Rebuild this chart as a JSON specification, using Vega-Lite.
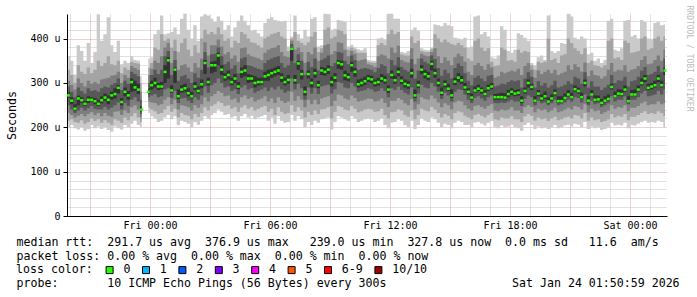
{
"$schema":"https://vega.github.io/schema/vega-lite/v6.json",
"width":600,"height":202,
"autosize":{"type":"none"},
"padding":{"left":67,"top":14,"right":30,"bottom":81},
"background":"#ffffff",
"config":{"view":{"stroke":null},"font":"DejaVu Sans Mono"},
"data":{"values":[
{"t":"2026-01-22T19:55","m":272,"a":200,"b":215,"c":232,"d":250,"e":266,"f":280,"g":292,"h":305,"i":330,"j":360},
{"t":"2026-01-22T20:05","m":260,"a":205,"b":218,"c":228,"d":240,"e":252,"f":268,"g":280,"h":296,"i":318,"j":350},
{"t":"2026-01-22T20:15","m":242,"a":198,"b":212,"c":222,"d":232,"e":238,"f":252,"g":268,"h":285,"i":300,"j":318},
{"t":"2026-01-22T20:25","m":265,"a":195,"b":210,"c":226,"d":238,"e":250,"f":272,"g":290,"h":310,"i":340,"j":385},
{"t":"2026-01-22T20:35","m":261,"a":200,"b":216,"c":230,"d":244,"e":255,"f":268,"g":282,"h":300,"i":325,"j":372},
{"t":"2026-01-22T20:45","m":253,"a":192,"b":208,"c":225,"d":238,"e":248,"f":260,"g":276,"h":292,"i":320,"j":350},
{"t":"2026-01-22T20:55","m":262,"a":196,"b":212,"c":230,"d":243,"e":255,"f":270,"g":288,"h":305,"i":335,"j":390},
{"t":"2026-01-22T21:05","m":262,"a":205,"b":220,"c":234,"d":248,"e":258,"f":268,"g":282,"h":298,"i":322,"j":345},
{"t":"2026-01-22T21:15","m":259,"a":198,"b":214,"c":228,"d":242,"e":252,"f":266,"g":284,"h":302,"i":330,"j":370},
{"t":"2026-01-22T21:25","m":253,"a":202,"b":218,"c":232,"d":240,"e":248,"f":262,"g":280,"h":298,"i":350,"j":455},
{"t":"2026-01-22T21:35","m":261,"a":196,"b":210,"c":225,"d":240,"e":254,"f":270,"g":288,"h":308,"i":338,"j":395},
{"t":"2026-01-22T21:45","m":267,"a":200,"b":216,"c":232,"d":246,"e":260,"f":276,"g":292,"h":310,"i":345,"j":410},
{"t":"2026-01-22T21:55","m":262,"a":194,"b":210,"c":226,"d":240,"e":252,"f":272,"g":290,"h":312,"i":360,"j":448},
{"t":"2026-01-22T22:05","m":272,"a":190,"b":206,"c":224,"d":244,"e":262,"f":280,"g":296,"h":316,"i":342,"j":385},
{"t":"2026-01-22T22:15","m":275,"a":202,"b":218,"c":235,"d":250,"e":265,"f":288,"g":300,"h":318,"i":340,"j":370},
{"t":"2026-01-22T22:25","m":289,"a":198,"b":215,"c":236,"d":256,"e":276,"f":295,"g":310,"h":325,"i":350,"j":395},
{"t":"2026-01-22T22:35","m":257,"a":195,"b":210,"c":228,"d":240,"e":250,"f":266,"g":284,"h":300,"i":322,"j":342},
{"t":"2026-01-22T22:45","m":280,"a":205,"b":222,"c":238,"d":255,"e":270,"f":290,"g":305,"h":318,"i":335,"j":350},
{"t":"2026-01-22T22:55","m":272,"a":200,"b":216,"c":232,"d":248,"e":262,"f":282,"g":298,"h":312,"i":330,"j":345},
{"t":"2026-01-22T23:05","m":302,"a":208,"b":225,"c":245,"d":262,"e":280,"f":310,"g":325,"h":338,"i":348,"j":360},
{"t":"2026-01-22T23:15","m":290,"a":215,"b":232,"c":250,"d":268,"e":282,"f":305,"g":320,"h":334,"i":345,"j":352},
{"t":"2026-01-22T23:25","m":285,"a":205,"b":222,"c":240,"d":258,"e":275,"f":298,"g":315,"h":330,"i":344,"j":350},
{"t":"2026-01-22T23:35","m":240,"a":200,"b":212,"c":222,"d":230,"e":236,"f":248,"g":262,"h":280,"i":300,"j":315},
{"t":"2026-01-22T23:45","m":null,"a":null,"b":null,"c":null,"d":null,"e":null,"f":null,"g":null,"h":null,"i":null,"j":null},
{"t":"2026-01-22T23:55","m":280,"a":232,"b":245,"c":258,"d":268,"e":275,"f":288,"g":300,"h":318,"i":335,"j":355},
{"t":"2026-01-23T00:05","m":295,"a":225,"b":240,"c":256,"d":272,"e":285,"f":305,"g":318,"h":332,"i":345,"j":358},
{"t":"2026-01-23T00:15","m":300,"a":220,"b":236,"c":255,"d":275,"e":290,"f":312,"g":330,"h":350,"i":380,"j":410},
{"t":"2026-01-23T00:25","m":292,"a":212,"b":230,"c":250,"d":268,"e":284,"f":300,"g":320,"h":345,"i":375,"j":420},
{"t":"2026-01-23T00:35","m":292,"a":215,"b":232,"c":252,"d":270,"e":286,"f":302,"g":330,"h":360,"i":410,"j":452},
{"t":"2026-01-23T00:45","m":325,"a":222,"b":240,"c":262,"d":285,"e":300,"f":340,"g":360,"h":380,"i":395,"j":410},
{"t":"2026-01-23T00:55","m":351,"a":228,"b":248,"c":268,"d":288,"e":310,"f":358,"g":372,"h":390,"i":400,"j":412},
{"t":"2026-01-23T01:05","m":283,"a":218,"b":235,"c":252,"d":266,"e":278,"f":295,"g":318,"h":345,"i":380,"j":415},
{"t":"2026-01-23T01:15","m":330,"a":225,"b":242,"c":262,"d":282,"e":300,"f":335,"g":352,"h":372,"i":398,"j":425},
{"t":"2026-01-23T01:25","m":270,"a":205,"b":222,"c":240,"d":255,"e":264,"f":285,"g":305,"h":330,"i":370,"j":410},
{"t":"2026-01-23T01:35","m":285,"a":215,"b":232,"c":250,"d":265,"e":278,"f":295,"g":315,"h":340,"i":390,"j":445},
{"t":"2026-01-23T01:45","m":288,"a":212,"b":228,"c":248,"d":266,"e":280,"f":298,"g":318,"h":342,"i":400,"j":456},
{"t":"2026-01-23T01:55","m":277,"a":208,"b":226,"c":245,"d":260,"e":270,"f":288,"g":310,"h":335,"i":375,"j":420},
{"t":"2026-01-23T02:05","m":270,"a":200,"b":218,"c":238,"d":255,"e":265,"f":280,"g":300,"h":325,"i":360,"j":400},
{"t":"2026-01-23T02:15","m":292,"a":212,"b":230,"c":250,"d":268,"e":284,"f":302,"g":322,"h":345,"i":385,"j":430},
{"t":"2026-01-23T02:25","m":282,"a":206,"b":224,"c":244,"d":262,"e":276,"f":292,"g":312,"h":335,"i":368,"j":395},
{"t":"2026-01-23T02:35","m":297,"a":215,"b":232,"c":252,"d":272,"e":288,"f":308,"g":330,"h":355,"i":400,"j":450},
{"t":"2026-01-23T02:45","m":345,"a":225,"b":245,"c":268,"d":292,"e":320,"f":352,"g":370,"h":392,"i":420,"j":455},
{"t":"2026-01-23T02:55","m":302,"a":220,"b":238,"c":258,"d":278,"e":294,"f":312,"g":335,"h":362,"i":410,"j":452},
{"t":"2026-01-23T03:05","m":340,"a":228,"b":248,"c":270,"d":295,"e":322,"f":348,"g":365,"h":385,"i":415,"j":445},
{"t":"2026-01-23T03:15","m":340,"a":232,"b":252,"c":275,"d":300,"e":325,"f":350,"g":366,"h":385,"i":410,"j":438},
{"t":"2026-01-23T03:25","m":362,"a":240,"b":258,"c":282,"d":310,"e":340,"f":368,"g":380,"h":398,"i":425,"j":450},
{"t":"2026-01-23T03:35","m":330,"a":235,"b":255,"c":278,"d":300,"e":318,"f":340,"g":360,"h":382,"i":410,"j":440},
{"t":"2026-01-23T03:45","m":313,"a":228,"b":248,"c":270,"d":290,"e":305,"f":322,"g":342,"h":365,"i":395,"j":420},
{"t":"2026-01-23T03:55","m":318,"a":230,"b":250,"c":272,"d":292,"e":308,"f":328,"g":348,"h":370,"i":400,"j":430},
{"t":"2026-01-23T04:05","m":302,"a":222,"b":242,"c":262,"d":282,"e":295,"f":312,"g":332,"h":355,"i":380,"j":405},
{"t":"2026-01-23T04:15","m":310,"a":225,"b":245,"c":265,"d":285,"e":300,"f":320,"g":340,"h":362,"i":395,"j":425},
{"t":"2026-01-23T04:25","m":292,"a":215,"b":235,"c":256,"d":275,"e":286,"f":302,"g":322,"h":348,"i":390,"j":440},
{"t":"2026-01-23T04:35","m":325,"a":225,"b":245,"c":268,"d":290,"e":312,"f":335,"g":355,"h":378,"i":415,"j":452},
{"t":"2026-01-23T04:45","m":328,"a":230,"b":250,"c":272,"d":295,"e":315,"f":340,"g":358,"h":380,"i":410,"j":440},
{"t":"2026-01-23T04:55","m":310,"a":222,"b":242,"c":264,"d":285,"e":300,"f":320,"g":340,"h":365,"i":400,"j":430},
{"t":"2026-01-23T05:05","m":310,"a":226,"b":246,"c":268,"d":288,"e":302,"f":318,"g":338,"h":360,"i":392,"j":418},
{"t":"2026-01-23T05:15","m":300,"a":218,"b":238,"c":258,"d":278,"e":290,"f":315,"g":335,"h":358,"i":390,"j":420},
{"t":"2026-01-23T05:25","m":302,"a":222,"b":242,"c":262,"d":282,"e":294,"f":312,"g":332,"h":356,"i":385,"j":412},
{"t":"2026-01-23T05:35","m":302,"a":225,"b":245,"c":265,"d":285,"e":296,"f":312,"g":330,"h":352,"i":380,"j":405},
{"t":"2026-01-23T05:45","m":315,"a":228,"b":248,"c":270,"d":290,"e":305,"f":325,"g":345,"h":368,"i":400,"j":435},
{"t":"2026-01-23T05:55","m":318,"a":215,"b":235,"c":258,"d":282,"e":305,"f":330,"g":352,"h":375,"i":405,"j":445},
{"t":"2026-01-23T06:05","m":322,"a":222,"b":242,"c":265,"d":290,"e":312,"f":332,"g":355,"h":378,"i":410,"j":448},
{"t":"2026-01-23T06:15","m":325,"a":208,"b":228,"c":255,"d":285,"e":315,"f":335,"g":358,"h":380,"i":412,"j":442},
{"t":"2026-01-23T06:25","m":328,"a":225,"b":245,"c":268,"d":292,"e":318,"f":338,"g":360,"h":385,"i":415,"j":440},
{"t":"2026-01-23T06:35","m":312,"a":215,"b":235,"c":260,"d":285,"e":302,"f":322,"g":345,"h":370,"i":405,"j":438},
{"t":"2026-01-23T06:45","m":302,"a":210,"b":230,"c":255,"d":278,"e":294,"f":312,"g":335,"h":360,"i":400,"j":440},
{"t":"2026-01-23T06:55","m":307,"a":212,"b":232,"c":258,"d":282,"e":298,"f":318,"g":340,"h":358,"i":372,"j":382},
{"t":"2026-01-23T07:05","m":377,"a":228,"b":250,"c":280,"d":310,"e":350,"f":380,"g":388,"h":395,"i":400,"j":405},
{"t":"2026-01-23T07:15","m":306,"a":215,"b":235,"c":260,"d":285,"e":298,"f":318,"g":345,"h":375,"i":415,"j":452},
{"t":"2026-01-23T07:25","m":344,"a":225,"b":245,"c":270,"d":298,"e":330,"f":350,"g":365,"h":380,"i":395,"j":410},
{"t":"2026-01-23T07:35","m":320,"a":218,"b":238,"c":262,"d":288,"e":308,"f":330,"g":350,"h":370,"i":390,"j":400},
{"t":"2026-01-23T07:45","m":280,"a":200,"b":222,"c":245,"d":262,"e":272,"f":292,"g":318,"h":345,"i":385,"j":420},
{"t":"2026-01-23T07:55","m":320,"a":212,"b":235,"c":262,"d":290,"e":310,"f":328,"g":348,"h":370,"i":392,"j":405},
{"t":"2026-01-23T08:05","m":300,"a":205,"b":228,"c":252,"d":276,"e":290,"f":310,"g":336,"h":365,"i":405,"j":445},
{"t":"2026-01-23T08:15","m":322,"a":215,"b":238,"c":262,"d":288,"e":312,"f":332,"g":355,"h":380,"i":415,"j":448},
{"t":"2026-01-23T08:25","m":295,"a":210,"b":230,"c":252,"d":275,"e":288,"f":305,"g":328,"h":350,"i":370,"j":382},
{"t":"2026-01-23T08:35","m":328,"a":218,"b":240,"c":265,"d":292,"e":318,"f":336,"g":352,"h":368,"i":378,"j":385},
{"t":"2026-01-23T08:45","m":325,"a":220,"b":242,"c":268,"d":294,"e":316,"f":334,"g":356,"h":385,"i":420,"j":456},
{"t":"2026-01-23T08:55","m":330,"a":222,"b":245,"c":270,"d":296,"e":320,"f":340,"g":362,"h":388,"i":425,"j":455},
{"t":"2026-01-23T09:05","m":302,"a":195,"b":220,"c":248,"d":276,"e":292,"f":314,"g":338,"h":365,"i":400,"j":420},
{"t":"2026-01-23T09:15","m":312,"a":212,"b":235,"c":260,"d":286,"e":302,"f":322,"g":345,"h":372,"i":405,"j":422},
{"t":"2026-01-23T09:25","m":345,"a":225,"b":248,"c":274,"d":302,"e":332,"f":352,"g":370,"h":392,"i":420,"j":442},
{"t":"2026-01-23T09:35","m":342,"a":222,"b":246,"c":272,"d":300,"e":330,"f":350,"g":368,"h":390,"i":418,"j":440},
{"t":"2026-01-23T09:45","m":317,"a":218,"b":240,"c":265,"d":290,"e":306,"f":328,"g":350,"h":375,"i":410,"j":438},
{"t":"2026-01-23T09:55","m":313,"a":215,"b":238,"c":262,"d":288,"e":304,"f":322,"g":342,"h":360,"i":375,"j":382},
{"t":"2026-01-23T10:05","m":340,"a":225,"b":248,"c":272,"d":300,"e":325,"f":348,"g":362,"h":372,"i":380,"j":386},
{"t":"2026-01-23T10:15","m":325,"a":220,"b":242,"c":266,"d":292,"e":314,"f":334,"g":352,"h":366,"i":375,"j":380},
{"t":"2026-01-23T10:25","m":297,"a":212,"b":234,"c":258,"d":280,"e":290,"f":308,"g":330,"h":350,"i":368,"j":376},
{"t":"2026-01-23T10:35","m":300,"a":215,"b":236,"c":260,"d":282,"e":292,"f":310,"g":332,"h":352,"i":368,"j":374},
{"t":"2026-01-23T10:45","m":304,"a":218,"b":240,"c":262,"d":284,"e":296,"f":314,"g":334,"h":354,"i":368,"j":378},
{"t":"2026-01-23T10:55","m":310,"a":220,"b":242,"c":265,"d":288,"e":302,"f":318,"g":332,"h":342,"i":348,"j":352},
{"t":"2026-01-23T11:05","m":308,"a":218,"b":240,"c":264,"d":286,"e":300,"f":316,"g":330,"h":340,"i":346,"j":350},
{"t":"2026-01-23T11:15","m":300,"a":212,"b":235,"c":258,"d":280,"e":292,"f":308,"g":324,"h":336,"i":345,"j":350},
{"t":"2026-01-23T11:25","m":302,"a":215,"b":236,"c":260,"d":282,"e":294,"f":312,"g":334,"h":360,"i":385,"j":400},
{"t":"2026-01-23T11:35","m":310,"a":220,"b":242,"c":265,"d":288,"e":302,"f":320,"g":342,"h":365,"i":390,"j":402},
{"t":"2026-01-23T11:45","m":306,"a":205,"b":228,"c":255,"d":282,"e":298,"f":316,"g":338,"h":362,"i":385,"j":398},
{"t":"2026-01-23T11:55","m":285,"a":198,"b":220,"c":246,"d":268,"e":278,"f":295,"g":322,"h":355,"i":410,"j":456},
{"t":"2026-01-23T12:05","m":318,"a":210,"b":234,"c":260,"d":288,"e":310,"f":328,"g":352,"h":380,"i":420,"j":456},
{"t":"2026-01-23T12:15","m":306,"a":212,"b":235,"c":260,"d":284,"e":298,"f":316,"g":340,"h":368,"i":410,"j":445},
{"t":"2026-01-23T12:25","m":325,"a":218,"b":240,"c":266,"d":292,"e":315,"f":335,"g":358,"h":384,"i":415,"j":445},
{"t":"2026-01-23T12:35","m":305,"a":215,"b":238,"c":262,"d":284,"e":297,"f":315,"g":336,"h":352,"i":364,"j":370},
{"t":"2026-01-23T12:45","m":298,"a":205,"b":228,"c":254,"d":278,"e":290,"f":308,"g":330,"h":348,"i":362,"j":368},
{"t":"2026-01-23T12:55","m":295,"a":200,"b":224,"c":250,"d":274,"e":287,"f":305,"g":326,"h":346,"i":362,"j":372},
{"t":"2026-01-23T13:05","m":322,"a":215,"b":238,"c":264,"d":290,"e":312,"f":332,"g":354,"h":378,"i":405,"j":420},
{"t":"2026-01-23T13:15","m":272,"a":196,"b":218,"c":240,"d":258,"e":266,"f":285,"g":310,"h":342,"i":390,"j":425},
{"t":"2026-01-23T13:25","m":295,"a":205,"b":228,"c":252,"d":276,"e":288,"f":305,"g":328,"h":355,"i":395,"j":418},
{"t":"2026-01-23T13:35","m":330,"a":220,"b":242,"c":268,"d":296,"e":320,"f":340,"g":355,"h":366,"i":372,"j":378},
{"t":"2026-01-23T13:45","m":320,"a":215,"b":238,"c":264,"d":290,"e":310,"f":330,"g":348,"h":362,"i":370,"j":375},
{"t":"2026-01-23T13:55","m":315,"a":212,"b":236,"c":262,"d":288,"e":306,"f":325,"g":344,"h":360,"i":370,"j":374},
{"t":"2026-01-23T14:05","m":343,"a":222,"b":246,"c":272,"d":300,"e":328,"f":350,"g":362,"h":370,"i":376,"j":380},
{"t":"2026-01-23T14:15","m":322,"a":218,"b":240,"c":265,"d":292,"e":312,"f":332,"g":354,"h":378,"i":410,"j":432},
{"t":"2026-01-23T14:25","m":300,"a":210,"b":232,"c":256,"d":280,"e":292,"f":310,"g":334,"h":360,"i":400,"j":430},
{"t":"2026-01-23T14:35","m":278,"a":200,"b":222,"c":245,"d":264,"e":272,"f":290,"g":316,"h":345,"i":392,"j":428},
{"t":"2026-01-23T14:45","m":297,"a":208,"b":230,"c":254,"d":278,"e":290,"f":306,"g":330,"h":358,"i":398,"j":435},
{"t":"2026-01-23T14:55","m":287,"a":205,"b":226,"c":250,"d":272,"e":282,"f":298,"g":322,"h":350,"i":392,"j":430},
{"t":"2026-01-23T15:05","m":272,"a":198,"b":218,"c":240,"d":258,"e":266,"f":285,"g":310,"h":340,"i":388,"j":428},
{"t":"2026-01-23T15:15","m":303,"a":210,"b":232,"c":256,"d":280,"e":295,"f":312,"g":334,"h":358,"i":385,"j":402},
{"t":"2026-01-23T15:25","m":312,"a":215,"b":236,"c":260,"d":286,"e":302,"f":322,"g":344,"h":366,"i":390,"j":400},
{"t":"2026-01-23T15:35","m":306,"a":212,"b":234,"c":258,"d":284,"e":298,"f":316,"g":338,"h":360,"i":385,"j":398},
{"t":"2026-01-23T15:45","m":290,"a":205,"b":226,"c":250,"d":274,"e":284,"f":300,"g":322,"h":348,"i":380,"j":402},
{"t":"2026-01-23T15:55","m":280,"a":205,"b":222,"c":242,"d":262,"e":274,"f":288,"g":305,"h":325,"i":355,"j":380},
{"t":"2026-01-23T16:05","m":267,"a":200,"b":218,"c":238,"d":255,"e":262,"f":276,"g":295,"h":318,"i":350,"j":382},
{"t":"2026-01-23T16:15","m":283,"a":210,"b":228,"c":248,"d":266,"e":278,"f":292,"g":312,"h":340,"i":395,"j":450},
{"t":"2026-01-23T16:25","m":287,"a":212,"b":230,"c":250,"d":270,"e":282,"f":296,"g":316,"h":345,"i":400,"j":452},
{"t":"2026-01-23T16:35","m":283,"a":208,"b":226,"c":246,"d":265,"e":276,"f":290,"g":310,"h":338,"i":380,"j":410},
{"t":"2026-01-23T16:45","m":275,"a":204,"b":222,"c":242,"d":260,"e":270,"f":284,"g":304,"h":330,"i":372,"j":415},
{"t":"2026-01-23T16:55","m":288,"a":210,"b":228,"c":248,"d":268,"e":282,"f":296,"g":316,"h":342,"i":378,"j":405},
{"t":"2026-01-23T17:05","m":292,"a":214,"b":232,"c":252,"d":272,"e":286,"f":300,"g":318,"h":335,"i":348,"j":358},
{"t":"2026-01-23T17:15","m":268,"a":200,"b":218,"c":238,"d":255,"e":262,"f":275,"g":292,"h":312,"i":338,"j":355},
{"t":"2026-01-23T17:25","m":268,"a":198,"b":216,"c":236,"d":254,"e":262,"f":276,"g":294,"h":315,"i":340,"j":362},
{"t":"2026-01-23T17:35","m":268,"a":204,"b":222,"c":240,"d":256,"e":263,"f":278,"g":298,"h":325,"i":380,"j":428},
{"t":"2026-01-23T17:45","m":267,"a":200,"b":220,"c":238,"d":255,"e":262,"f":277,"g":297,"h":322,"i":375,"j":420},
{"t":"2026-01-23T17:55","m":275,"a":202,"b":220,"c":240,"d":258,"e":268,"f":284,"g":302,"h":325,"i":350,"j":372},
{"t":"2026-01-23T18:05","m":280,"a":206,"b":225,"c":245,"d":262,"e":273,"f":288,"g":306,"h":328,"i":352,"j":368},
{"t":"2026-01-23T18:15","m":276,"a":200,"b":218,"c":238,"d":258,"e":270,"f":284,"g":304,"h":326,"i":348,"j":375},
{"t":"2026-01-23T18:25","m":278,"a":198,"b":218,"c":238,"d":258,"e":272,"f":286,"g":306,"h":332,"i":375,"j":412},
{"t":"2026-01-23T18:35","m":260,"a":192,"b":212,"c":232,"d":248,"e":255,"f":270,"g":290,"h":318,"i":368,"j":408},
{"t":"2026-01-23T18:45","m":282,"a":205,"b":225,"c":245,"d":264,"e":276,"f":290,"g":310,"h":338,"i":372,"j":402},
{"t":"2026-01-23T18:55","m":300,"a":210,"b":230,"c":250,"d":272,"e":290,"f":308,"g":324,"h":345,"i":370,"j":395},
{"t":"2026-01-23T19:05","m":291,"a":205,"b":226,"c":246,"d":268,"e":284,"f":298,"g":314,"h":330,"i":340,"j":345},
{"t":"2026-01-23T19:15","m":260,"a":196,"b":215,"c":234,"d":250,"e":256,"f":270,"g":290,"h":312,"i":330,"j":340},
{"t":"2026-01-23T19:25","m":276,"a":202,"b":222,"c":242,"d":260,"e":270,"f":284,"g":304,"h":328,"i":348,"j":358},
{"t":"2026-01-23T19:35","m":265,"a":198,"b":218,"c":238,"d":254,"e":260,"f":274,"g":294,"h":320,"i":345,"j":362},
{"t":"2026-01-23T19:45","m":270,"a":200,"b":220,"c":240,"d":256,"e":264,"f":280,"g":300,"h":325,"i":348,"j":352},
{"t":"2026-01-23T19:55","m":258,"a":196,"b":214,"c":234,"d":250,"e":254,"f":268,"g":290,"h":330,"i":400,"j":452},
{"t":"2026-01-23T20:05","m":265,"a":200,"b":220,"c":238,"d":254,"e":260,"f":274,"g":295,"h":322,"i":352,"j":372},
{"t":"2026-01-23T20:15","m":277,"a":205,"b":224,"c":244,"d":262,"e":272,"f":286,"g":305,"h":330,"i":355,"j":368},
{"t":"2026-01-23T20:25","m":259,"a":198,"b":216,"c":234,"d":250,"e":255,"f":270,"g":290,"h":318,"i":345,"j":372},
{"t":"2026-01-23T20:35","m":259,"a":200,"b":218,"c":236,"d":252,"e":256,"f":270,"g":292,"h":322,"i":362,"j":390},
{"t":"2026-01-23T20:45","m":266,"a":204,"b":222,"c":240,"d":256,"e":262,"f":276,"g":296,"h":325,"i":365,"j":388},
{"t":"2026-01-23T20:55","m":274,"a":206,"b":224,"c":244,"d":262,"e":270,"f":284,"g":304,"h":340,"i":400,"j":456},
{"t":"2026-01-23T21:05","m":268,"a":202,"b":220,"c":240,"d":258,"e":264,"f":278,"g":298,"h":330,"i":390,"j":450},
{"t":"2026-01-23T21:15","m":286,"a":208,"b":228,"c":248,"d":268,"e":280,"f":294,"g":314,"h":342,"i":378,"j":402},
{"t":"2026-01-23T21:25","m":282,"a":206,"b":226,"c":246,"d":266,"e":276,"f":290,"g":310,"h":336,"i":372,"j":398},
{"t":"2026-01-23T21:35","m":268,"a":200,"b":220,"c":240,"d":256,"e":264,"f":278,"g":298,"h":326,"i":365,"j":405},
{"t":"2026-01-23T21:45","m":300,"a":212,"b":232,"c":252,"d":274,"e":292,"f":308,"g":324,"h":346,"i":378,"j":400},
{"t":"2026-01-23T21:55","m":260,"a":196,"b":215,"c":234,"d":250,"e":256,"f":270,"g":290,"h":315,"i":345,"j":365},
{"t":"2026-01-23T22:05","m":274,"a":202,"b":222,"c":242,"d":260,"e":270,"f":284,"g":304,"h":328,"i":350,"j":368},
{"t":"2026-01-23T22:15","m":262,"a":198,"b":216,"c":236,"d":252,"e":258,"f":272,"g":292,"h":318,"i":340,"j":350},
{"t":"2026-01-23T22:25","m":263,"a":200,"b":218,"c":238,"d":254,"e":259,"f":272,"g":292,"h":316,"i":338,"j":355},
{"t":"2026-01-23T22:35","m":255,"a":194,"b":212,"c":230,"d":246,"e":251,"f":264,"g":284,"h":310,"i":335,"j":345},
{"t":"2026-01-23T22:45","m":260,"a":196,"b":214,"c":234,"d":250,"e":256,"f":270,"g":290,"h":315,"i":340,"j":352},
{"t":"2026-01-23T22:55","m":264,"a":200,"b":218,"c":238,"d":254,"e":260,"f":274,"g":296,"h":330,"i":395,"j":440},
{"t":"2026-01-23T23:05","m":291,"a":210,"b":230,"c":250,"d":270,"e":285,"f":298,"g":318,"h":345,"i":400,"j":445},
{"t":"2026-01-23T23:15","m":270,"a":204,"b":222,"c":242,"d":258,"e":266,"f":280,"g":300,"h":326,"i":355,"j":375},
{"t":"2026-01-23T23:25","m":276,"a":206,"b":226,"c":246,"d":262,"e":272,"f":286,"g":306,"h":330,"i":358,"j":372},
{"t":"2026-01-23T23:35","m":275,"a":204,"b":224,"c":244,"d":262,"e":270,"f":285,"g":305,"h":328,"i":352,"j":378},
{"t":"2026-01-23T23:45","m":285,"a":210,"b":230,"c":250,"d":270,"e":280,"f":294,"g":314,"h":340,"i":395,"j":440},
{"t":"2026-01-23T23:55","m":259,"a":198,"b":216,"c":236,"d":252,"e":256,"f":270,"g":292,"h":325,"i":390,"j":442},
{"t":"2026-01-24T00:05","m":274,"a":205,"b":224,"c":244,"d":262,"e":270,"f":284,"g":304,"h":330,"i":368,"j":405},
{"t":"2026-01-24T00:15","m":274,"a":204,"b":224,"c":244,"d":262,"e":270,"f":285,"g":306,"h":332,"i":370,"j":408},
{"t":"2026-01-24T00:25","m":285,"a":208,"b":228,"c":248,"d":268,"e":280,"f":294,"g":314,"h":338,"i":372,"j":400},
{"t":"2026-01-24T00:35","m":300,"a":212,"b":232,"c":254,"d":276,"e":294,"f":310,"g":328,"h":352,"i":400,"j":442},
{"t":"2026-01-24T00:45","m":310,"a":215,"b":236,"c":258,"d":282,"e":302,"f":318,"g":336,"h":360,"i":405,"j":438},
{"t":"2026-01-24T00:55","m":289,"a":210,"b":230,"c":250,"d":270,"e":284,"f":298,"g":318,"h":342,"i":375,"j":400},
{"t":"2026-01-24T01:05","m":292,"a":212,"b":232,"c":252,"d":272,"e":286,"f":300,"g":320,"h":344,"i":378,"j":398},
{"t":"2026-01-24T01:15","m":295,"a":210,"b":230,"c":252,"d":274,"e":290,"f":305,"g":325,"h":352,"i":400,"j":435},
{"t":"2026-01-24T01:25","m":310,"a":215,"b":236,"c":258,"d":282,"e":302,"f":318,"g":338,"h":362,"i":405,"j":438},
{"t":"2026-01-24T01:35","m":295,"a":212,"b":232,"c":252,"d":274,"e":290,"f":305,"g":324,"h":350,"i":395,"j":430},
{"t":"2026-01-24T01:45","m":328,"a":200,"b":225,"c":255,"d":285,"e":318,"f":335,"g":355,"h":375,"i":405,"j":432}
]},
"encoding":{
 "x":{"field":"t","type":"temporal",
  "scale":{"domain":[{"year":2026,"month":1,"date":22,"hours":19,"minutes":51},{"year":2026,"month":1,"date":24,"hours":1,"minutes":51}]},
  "axis":null}
},
"layer":[
 {"mark":{"type":"area","interpolate":"step","color":"#cacaca"},
  "encoding":{
   "x":{"field":"t","type":"temporal",
    "axis":{
     "orient":"bottom","zindex":0,
     "tickCount":30,
     "grid":true,
     "gridColor":{"condition":{"test":"hours(datum.value) % 3 == 0","value":"#dca0a0"},"value":"#c4c4c4"},
     "gridOpacity":1,
     "gridDash":[1,1],
     "ticks":false,
     "domainColor":"#000000",
     "labelExpr":"hours(datum.value) % 6 == 0 ? timeFormat(datum.value, '%a %H:%M') : ''",
     "labelOverlap":false,
     "labelFlush":false,
     "labelFont":"DejaVu Sans Mono","labelFontSize":10,"labelColor":"#000000","labelPadding":4,
     "title":["median rtt:\u00a0\u00a0291.7 us avg\u00a0\u00a0376.9 us max\u00a0\u00a0\u00a0239.0 us min\u00a0\u00a0327.8 us now\u00a0\u00a00.0 ms sd\u00a0\u00a0\u00a011.6\u00a0\u00a0am/s",
              "packet loss: 0.00 % avg\u00a0\u00a00.00 % max\u00a0\u00a00.00 % min\u00a0\u00a00.00 % now"],
     "titleX":-51,"titleY":29.5,"titleAlign":"left","titleBaseline":"alphabetic",
     "titleFont":"DejaVu Sans Mono","titleFontSize":11.6,"titleFontWeight":"normal","titleColor":"#000000","titleLineHeight":13.7
    }},
   "y":{"field":"a","type":"quantitative","scale":{"domain":[0,455.5],"nice":false,"zero":true},
    "axis":{"orient":"left","zindex":0,
     "values":[0,20,40,60,80,100,120,140,160,180,200,220,240,260,280,300,320,340,360,380,400,420,440],
     "grid":true,
     "gridColor":{"condition":{"test":"datum.value % 100 == 0","value":"#dca0a0"},"value":"#c4c4c4"},
     "gridOpacity":1,
     "gridDash":[1,1],
     "tickSize":4,
     "tickColor":{"condition":{"test":"datum.value % 100 == 0","value":"#000000"},"value":"transparent"},
     "domainColor":"#000000",
     "labelExpr":"datum.value == 0 ? '0\u00a0\u00a0' : (datum.value % 100 == 0 ? datum.value + ' u' : '')",
     "labelOverlap":false,"labelFlush":false,
     "labelFont":"DejaVu Sans Mono","labelFontSize":10,"labelColor":"#000000","labelPadding":3,
     "title":"Seconds","titleFont":"DejaVu Sans Mono","titleFontSize":11.6,"titleFontWeight":"normal","titleColor":"#000000","titlePadding":12.5}},
   "y2":{"field":"j"}}},
 {"mark":{"type":"area","interpolate":"step","color":"#a4a4a4"},
  "encoding":{"y":{"field":"b","type":"quantitative","axis":null},"y2":{"field":"i"}}},
 {"mark":{"type":"area","interpolate":"step","color":"#7e7e7e"},
  "encoding":{"y":{"field":"c","type":"quantitative","axis":null},"y2":{"field":"h"}}},
 {"mark":{"type":"area","interpolate":"step","color":"#585858"},
  "encoding":{"y":{"field":"d","type":"quantitative","axis":null},"y2":{"field":"g"}}},
 {"mark":{"type":"area","interpolate":"step","color":"#323232"},
  "encoding":{"y":{"field":"e","type":"quantitative","axis":null},"y2":{"field":"f"}}},
 {"mark":{"type":"tick","orient":"horizontal","size":3,"thickness":2.5,"opacity":1},
  "encoding":{
   "x":{"field":"t","type":"temporal",
    "axis":{"orient":"bottom","labels":false,"ticks":false,"domain":false,"grid":false,
     "title":"probe:\u00a0\u00a0\u00a0\u00a0\u00a0\u00a0\u00a010 ICMP Echo Pings (56 Bytes) every 300s\u00a0\u00a0\u00a0\u00a0\u00a0\u00a0\u00a0\u00a0\u00a0\u00a0\u00a0\u00a0\u00a0\u00a0\u00a0\u00a0\u00a0\u00a0Sat Jan 24 01:50:59 2026",
     "titleX":-51,"titleY":70.6,"titleAlign":"left","titleBaseline":"alphabetic",
     "titleFont":"DejaVu Sans Mono","titleFontSize":11.6,"titleFontWeight":"normal","titleColor":"#000000"}},
   "y":{"field":"m","type":"quantitative",
    "axis":{"orient":"right","labels":false,"ticks":false,"domain":false,"grid":false,
     "title":"RRDTOOL / TOBI OETIKER","titleX":21,"titleY":-9,"titleAngle":90,"titleAlign":"left","titleBaseline":"middle",
     "titleFont":"DejaVu Sans Mono","titleFontSize":8,"titleFontWeight":"normal","titleColor":"#bbbbbb"}},
   "color":{"datum":"0","type":"nominal",
    "scale":{"domain":["0","1","2","3","4","5","6-9","10/10"],"range":["#26ff00","#00b8ff","#0059ff","#7e00ff","#ff00ff","#ff5500","#ff0000","#a10000"]},
    "legend":{"orient":"none","legendX":-51,"legendY":250,"direction":"horizontal",
     "title":"loss color:","titleOrient":"left","titlePadding":10.8,"titleFont":"DejaVu Sans Mono","titleFontSize":11.6,"titleFontWeight":"normal","titleColor":"#000000","titleLimit":300,
     "symbolType":"square","symbolSize":49,"symbolStrokeColor":"#000000","symbolStrokeWidth":1,"symbolOpacity":1,
     "labelFont":"DejaVu Sans Mono","labelFontSize":11.6,"labelColor":"#000000","labelOffset":8,"columnPadding":9.4,"padding":0,"rowPadding":0}}}},
 {"data":{"values":[{}]},
  "mark":{"type":"point","shape":"M-1,0.55L1,0.55L0,-0.55Z","size":36,"filled":true,"color":"#7f0000","opacity":1,"yOffset":-3.5},
  "encoding":{"x":{"datum":{"year":2026,"month":1,"date":22,"hours":19,"minutes":51},"type":"temporal","axis":null},"y":{"datum":455.5,"type":"quantitative","axis":null}}},
 {"data":{"values":[{}]},
  "mark":{"type":"point","shape":"M-0.55,-1L0.55,0L-0.55,1Z","size":36,"filled":true,"color":"#7f0000","opacity":1,"xOffset":4},
  "encoding":{"x":{"datum":{"year":2026,"month":1,"date":24,"hours":1,"minutes":51},"type":"temporal","axis":null},"y":{"datum":0,"type":"quantitative","axis":null}}}
],
"resolve":{"axis":{"x":"independent","y":"independent"}}
}
